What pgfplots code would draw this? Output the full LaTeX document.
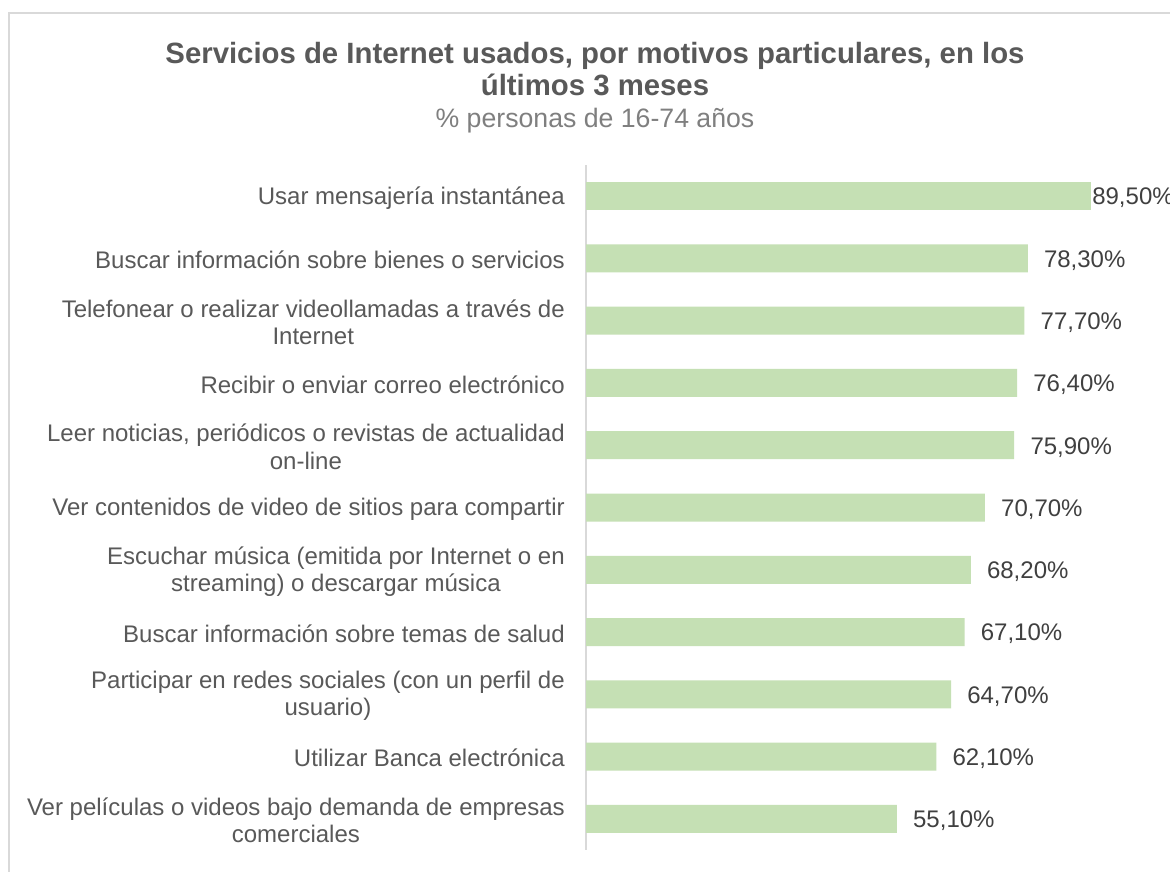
\documentclass[border=0pt]{standalone}
\usepackage{pgfplots}
\pgfplotsset{compat=1.18}
\usepackage{fontspec}
\setmainfont{Liberation Sans}
\definecolor{barg}{HTML}{C5E0B4}
\definecolor{lab}{HTML}{595959}
\definecolor{val}{HTML}{404040}
\definecolor{sub}{HTML}{7F7F7F}
\definecolor{frame}{HTML}{D9D9D9}
\begin{document}
\begin{tikzpicture}[x=0.75pt,y=-0.75pt]
\useasboundingbox (0,0) rectangle (1170,871);
\clip (0,0) rectangle (1170,871);
\fill[white] (0,0) rectangle (1170,871);
\draw[frame, line width=1.5pt] (9,1000) -- (9,13) -- (1300,13);
\node[anchor=base, text=lab, font=\fontsize{22}{24}\selectfont\bfseries] at (595,63) {Servicios de Internet usados, por motivos particulares, en los};
\node[anchor=base, text=lab, font=\fontsize{22}{24}\selectfont\bfseries] at (595,95) {últimos 3 meses};
\node[anchor=base, text=sub, font=\fontsize{20}{22}\selectfont] at (595,127) {\% personas de 16-74 años};
\coordinate (A) at (586,850);
\begin{axis}[
  at={(A)}, anchor=south west,
  scale only axis, width=423.15pt, height=513.75pt,
  xbar, bar width=21pt, bar shift=0pt,
  xmin=0, xmax=100, ymin=-0.5, ymax=10.5, y dir=reverse,
  axis x line=none, axis y line*=left,
  axis line style={draw=frame, line width=1.2pt, -},
  ytick={0,...,10}, major tick length=0pt,
  yticklabels={
    {Usar mensajería instantánea},
    {Buscar información sobre bienes o servicios},
    {Telefonear o realizar videollamadas a través de\\Internet},
    {Recibir o enviar correo electrónico},
    {Leer noticias, periódicos o revistas de actualidad\\on-line},
    {Ver contenidos de video de sitios para compartir},
    {Escuchar música (emitida por Internet o en\\streaming) o descargar música},
    {Buscar información sobre temas de salud},
    {Participar en redes sociales (con un perfil de\\usuario)},
    {Utilizar Banca electrónica},
    {Ver películas o videos bajo demanda de empresas\\comerciales}},
  yticklabel style={font=\fontsize{18}{20.5}\selectfont, text=lab, align=center, inner xsep=0pt, xshift=-15.75pt, yshift=-1.2pt},
  /pgf/number format/assume math mode=true,
  nodes near coords={\pgfmathprintnumber[fixed,fixed zerofill,precision=2,use comma]{\pgfplotspointmeta}\%},
  nodes near coords style={font=\fontsize{18}{20}\selectfont, text=val, anchor=west, inner xsep=0pt, yshift=-1.5pt},
  clip=false,
]
\addplot[fill=barg, draw=none, nodes near coords style={xshift=12pt}] coordinates {
  (78.3,1) (77.7,2) (76.4,3) (75.9,4) (70.7,5) (68.2,6) (67.1,7) (64.7,8) (62.1,9) (55.1,10)};
\addplot[fill=barg, draw=none, nodes near coords style={xshift=0.8pt}] coordinates {(89.5,0)};
\end{axis}
\end{tikzpicture}
\end{document}
